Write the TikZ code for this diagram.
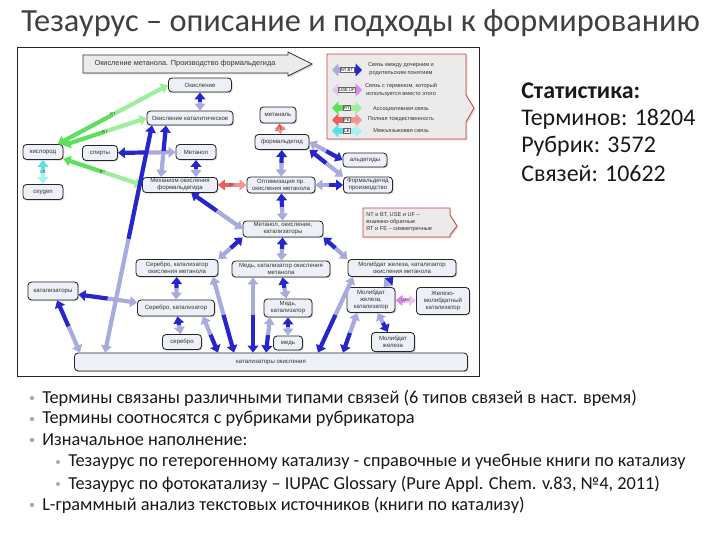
\documentclass[tikz,border=0pt]{standalone}
\usepackage{fontspec}
\setmainfont{Carlito}
\newfontfamily\termfont{Liberation Sans}
\usetikzlibrary{arrows.meta,shadows}

\definecolor{ntblue}{HTML}{2626CC}
\definecolor{ntpale}{HTML}{A9ABDD}
\definecolor{rtgreen}{HTML}{5EDF5E}
\definecolor{rtpale}{HTML}{9CF09C}
\definecolor{fered}{HTML}{E85E5E}
\definecolor{fepale}{HTML}{F29494}
\definecolor{lecyan}{HTML}{56E4E4}
\definecolor{lepale}{HTML}{A4F2F2}
\definecolor{uflilac}{HTML}{DD86EE}
\definecolor{ufpale}{HTML}{EDC0F4}
\definecolor{termfill}{HTML}{EDF0F7}
\definecolor{legendfill}{HTML}{EBEBEB}
\definecolor{legendline}{HTML}{D04040}
\definecolor{titlegray}{HTML}{404040}
\definecolor{bulletgray}{HTML}{9DAEBE}

\tikzset{
  term/.style={draw=black!85, line width=0.6pt, rounded corners=2.5pt, fill=termfill,
    align=center, inner sep=0.5pt, text=black!80,
    font=\termfont\fontsize{4.3}{5}\selectfont,
    drop shadow={shadow xshift=0.8pt, shadow yshift=-0.8pt, opacity=0.35}},
  wh/.style 2 args={minimum width=#1*0.025cm, minimum height=#2*0.025cm},
  linkw/.style={line width=3pt},
  fat/.tip={Triangle[width=7.5pt,length=5pt]},
  nt dark/.style={ntblue}, nt light/.style={ntpale},
  rt dark/.style={rtgreen}, rt light/.style={rtpale},
  fe dark/.style={fered}, fe light/.style={fepale},
  le dark/.style={lecyan}, le light/.style={lepale},
  uf dark/.style={uflilac}, uf light/.style={ufpale},
  lbl/.style={font=\termfont\fontsize{3}{3}\selectfont, inner sep=0.3pt, text=black!70},
  callout/.style={fill=legendfill, draw=legendline, line width=0.6pt,
    drop shadow={shadow xshift=1pt, shadow yshift=-1pt, opacity=0.3}},
  smalltext/.style={font=\termfont\fontsize{4}{5.2}\selectfont, text=black!80, align=center, inner sep=0},
  stat/.style={anchor=west, inner sep=0, text=black!90, font=\fontsize{17}{20}\selectfont},
  bul/.style={anchor=west, inner sep=0, text=black!90, font=\fontsize{13}{15}\selectfont},
}

% link between two terms: dark half at the first end, pale half at the second
\newcommand{\tlink}[4][]{%
  \path (#3) -- (#4) coordinate[pos=.5] (mid);
  \draw[linkw, #2 dark, {fat}-] (#3) -- (mid);
  \draw[linkw, #2 light, -{fat}] (mid) -- (#4);
  \if\relax\detokenize{#1}\relax\else\node[lbl] (midlbl) at (mid) {#1};\fi
}

\begin{document}
\begin{tikzpicture}[x=0.025cm, y=-0.025cm]
  \useasboundingbox (0,0) rectangle (720,540);
  \fill[white] (0,0) rectangle (720,540);

  \node[anchor=west, inner sep=0, text=titlegray, font=\fontsize{23}{27}\selectfont] (title) at (21,23)
    {Тезаурус – описание и подходы к формированию};

  % diagram frame
  \draw[line width=0.6pt, black!85] (17,47) rectangle (479,376);

  % banner
  \filldraw[fill=legendfill, draw=black!80, line width=0.6pt,
    drop shadow={shadow xshift=1pt, shadow yshift=-1pt, opacity=0.3}]
    (83,55) -- (288,55) -- (288,52) -- (312,64) -- (288,76) -- (288,73) -- (83,73) -- cycle;
  \node[inner sep=0, text=black!80, font=\termfont\fontsize{5.2}{6}\selectfont] (banner) at (185,64)
    {Окисление метанола. Производство формальдегида};

  % legend
  \filldraw[callout] (327,54) -- (466,54) -- (466,95) -- (474,108) -- (466,122) -- (466,139) -- (327,139) -- cycle;
  \node[smalltext] (lg1) at (401,69) {Связь между дочерним и\\родительским понятием};
  \node[smalltext] (lg2) at (401,90) {Связь с термином, который\\используется вместо этого};
  \node[smalltext] (lg3) at (401,109) {Ассоциативная связь};
  \node[smalltext] (lg4) at (401,119) {Полная тождественность};
  \node[smalltext] (lg5) at (401,131) {Межъязыковая связь};

  % note
  \filldraw[callout] (363,208) -- (450,208) -- (450,215) -- (457,226) -- (450,235) -- (450,237) -- (363,237) -- cycle;
  \node[smalltext, anchor=west, align=left] (note) at (366,222)
    {NT и BT, USE и UF –\\взаимно-обратные\\RT и FE – симметричные};

  % terms
  \node[term, wh={63}{14}] (ok) at (200,85) {Окисление};
  \node[term, wh={86}{14}] (okk) at (190,118) {Окисление каталитическое};
  \node[term, wh={36}{16}] (metanal) at (278,115) {метаналь};
  \node[term, wh={54}{15}] (formald) at (282,142) {формальдегид};
  \node[term, wh={40}{15}] (kisl) at (43,152) {кислород};
  \node[term, wh={35}{15}] (spirty) at (100,153) {спирты};
  \node[term, wh={40}{15}] (metanol) at (196,152) {Метанол};
  \node[term, wh={40}{15}] (oxygen) at (43,192) {oxygen};
  \node[term, wh={75}{15}] (meh) at (180,185) {Механизм окисления\\формальдегида};
  \node[term, wh={68}{16}] (optim) at (281,185) {Оптимизация пр.\\окисления метанола};
  \node[term, wh={44}{14}] (aldeg) at (365,160) {альдегиды};
  \node[term, wh={49}{16}] (fprod) at (368,185) {Формальдегид\\производство};
  \node[term, wh={80}{16}] (mok) at (283,229) {Метанол, окисление,\\катализаторы};
  \node[term, wh={82}{17}] (serok) at (177,268) {Серебро, катализатор\\окисления метанола};
  \node[term, wh={98}{16}] (medok) at (281,269) {Медь, катализатор окисления\\метанола};
  \node[term, wh={108}{17}] (molok) at (402,268) {Молибдат железа, катализатор\\окисления метанола};
  \node[term, wh={50}{18}] (katal) at (53,291) {катализаторы};
  \node[term, wh={77}{16}] (serk) at (176,308) {Серебро, катализатор};
  \node[term, wh={48}{18}] (medk) at (288,308) {Медь,\\катализатор};
  \node[term, wh={48}{25}] (molk) at (371,300) {Молибдат\\железа,\\катализатор};
  \node[term, wh={53}{27}] (zhm) at (443,301) {Железо-\\молибдатный\\катализатор};
  \node[term, wh={39}{15}] (serebro) at (182,342) {серебро};
  \node[term, wh={29}{14}] (med) at (288,343) {медь};
  \node[term, wh={43}{19}] (molb) at (393,342) {Молибдат\\железа};
  \node[term, wh={393}{18}] (kok) at (271,362) {катализаторы окисления};

  % free ends on the borders
  \coordinate (okk-a) at (okk.south -| 152,0);
  \coordinate (okk-b) at (okk.south -| 166,0);
  \coordinate (meh-a) at (meh.north -| 161,0);
  \coordinate (serok-a) at (serok.south -| 213,0);
  \coordinate (serk-a) at (serk.south -| 203,0);
  \coordinate (medok-a) at (medok.south -| 253,0);
  \coordinate (medk-a) at (medk.south -| 270,0);
  \coordinate (molok-a) at (molok.south -| 353,0);
  \coordinate (molk-a) at (molk.south -| 357,0);
  \coordinate (kok-1) at (kok.north -| 105,0);
  \coordinate (kok-2) at (kok.north -| 80,0);
  \coordinate (kok-3) at (kok.north -| 234,0);
  \coordinate (kok-4) at (kok.north -| 218,0);
  \coordinate (kok-5) at (kok.north -| 253,0);
  \coordinate (kok-6) at (kok.north -| 266,0);
  \coordinate (kok-7) at (kok.north -| 318,0);
  \coordinate (kok-8) at (kok.north -| 343,0);

  % associative, equivalence and language links
  \tlink[RT]{rt}{kisl}{ok.west}
  \tlink[RT]{rt}{kisl}{okk.west}
  \tlink[RT]{rt}{kisl}{meh.west}
  \tlink[LE]{le}{kisl.south}{oxygen.north}
  \tlink[FE]{fe}{metanal}{formald}
  \tlink[FE]{fe}{meh.east}{optim.west}
  \tlink[USE]{uf}{molk}{zhm}

  % hierarchy links
  \tlink{nt}{ok.south}{ok.south |- okk.north}
  \tlink[nt]{nt}{spirty}{metanol}
  \tlink{nt}{okk-b}{meh-a}
  \tlink{nt}{okk-a}{kok-1}
  \tlink{nt}{metanol.south}{metanol.south |- meh.north}
  \tlink{nt}{formald}{optim}
  \tlink{nt}{aldeg.west}{formald.east}
  \tlink{nt}{formald.south east}{fprod.north west}
  \tlink{nt}{fprod}{optim}
  \tlink{nt}{optim}{mok}
  \tlink{nt}{meh}{mok.west}
  \tlink{nt}{mok.south west}{serok.north east}
  \tlink{nt}{mok}{medok}
  \tlink{nt}{mok.south east}{molok.north west}
  \tlink{nt}{katal}{serk}
  \tlink{nt}{katal}{kok-2}
  \tlink{nt}{serok}{serk}
  \tlink{nt}{serk}{serebro}
  \tlink{nt}{kok-3}{serok-a}
  \tlink{nt}{kok-4}{serk-a}
  \tlink{nt}{kok-5}{medok-a}
  \tlink{nt}{kok-6}{medk-a}
  \tlink{nt}{medok}{medk}
  \tlink{nt}{medk}{med}
  \tlink{nt}{kok-7}{molok-a}
  \tlink{nt}{kok-8}{molk-a}
  \tlink{nt}{molok}{molk}
  \tlink{nt}{molb}{molk}

  % legend icons
  \begin{scope}[linkw/.style={line width=4pt}, fat/.tip={Triangle[width=9pt,length=4.5pt]},
      lbl/.style={font=\termfont\fontsize{3}{3}\selectfont, inner sep=0.6pt, fill=white, draw=black!60, line width=0.3pt}]
    \coordinate (ic1a) at (332,70);  \coordinate (ic1b) at (362,70);
    \coordinate (ic2a) at (332,90);  \coordinate (ic2b) at (362,90);
    \coordinate (ic3a) at (332,108); \coordinate (ic3b) at (362,108);
    \coordinate (ic4a) at (332,120); \coordinate (ic4b) at (362,120);
    \coordinate (ic5a) at (332,131); \coordinate (ic5b) at (362,131);
    \tlink[NT BT]{nt}{ic1b}{ic1a}
    \tlink[USE UF]{uf}{ic2b}{ic2a}
    \tlink[RT]{rt}{ic3a}{ic3b}
    \tlink[FE]{fe}{ic4a}{ic4b}
    \tlink[LE]{le}{ic5a}{ic5b}
  \end{scope}

  % statistics
  \node[stat, font=\bfseries\fontsize{17}{20}\selectfont] (st0) at (521,91) {Статистика:};
  \node[stat] (st1) at (521,119) {Терминов: 18204};
  \node[stat] (st2) at (521,146) {Рубрик: 3572};
  \node[stat] (st3) at (521,174) {Связей: 10622};

  % bullets
  \foreach \yy in {398,419,440,505} \fill[bulletgray] (32,\yy) circle (2.2);
  \foreach \yy in {462,484} \fill[bulletgray] (58,\yy) circle (2);
  \node[bul] (bu1) at (42,398) {Термины связаны различными типами связей (6 типов связей в наст. время)};
  \node[bul] (bu2) at (42,419) {Термины соотносятся с рубриками рубрикатора};
  \node[bul] (bu3) at (42,440) {Изначальное наполнение:};
  \node[bul] (bu4) at (68,462) {Тезаурус по гетерогенному катализу - справочные и учебные книги по катализу};
  \node[bul] (bu5) at (68,484) {Тезаурус по фотокатализу – IUPAC Glossary (Pure Appl. Chem. v.83, №4, 2011)};
  \node[bul] (bu6) at (42,505) {L-граммный анализ текстовых источников (книги по катализу)};
\end{tikzpicture}
\end{document}
